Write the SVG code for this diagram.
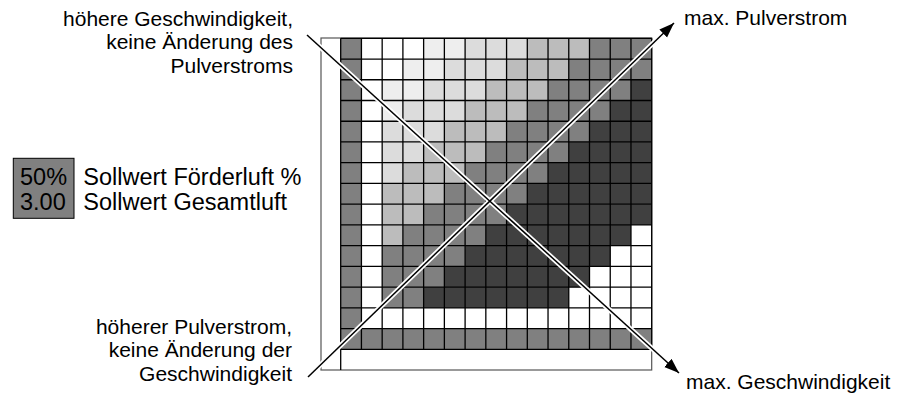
<svg xmlns="http://www.w3.org/2000/svg" width="908" height="396" viewBox="0 0 908 396">
<style>
text{font-family:"Liberation Sans",Arial,sans-serif;fill:#000}
.lbl{font-size:21px}
.big{font-size:23.5px}
.l1{fill:#eeeeee}.l2{fill:#dcdcdc}.l3{fill:#bcbcbc}.g{fill:#808080}.d{fill:#404040}
.halo{stroke:#fff;stroke-width:5;fill:none}
.ax{stroke:#000;stroke-width:1.5;fill:none;marker-end:url(#ah)}
</style>
<defs>
<marker id="ah" markerUnits="userSpaceOnUse" markerWidth="16" markerHeight="12" refX="15" refY="5.5" orient="auto">
<path d="M0,0 L15,5.5 L0,11 z" fill="#000"/>
</marker>
</defs>
<rect width="908" height="396" fill="#fff"/>
<g id="frame">
<rect x="321" y="38" width="330.7" height="332" fill="none" stroke="#555" stroke-width="1.2"/>
<line x1="340.7" y1="349" x2="340.7" y2="370" stroke="#000" stroke-width="1.3"/>
</g>
<g id="grid" transform="translate(340.7,38.3)">
<rect class="g" x="0" y="0" width="20.73" height="311"/>
<rect class="g" x="0" y="290.27" width="311" height="20.73"/>
<rect class="l1" x="82.93" y="0" width="41.47" height="20.74"/>
<rect class="l2" x="124.4" y="0" width="62.2" height="20.74"/>
<rect class="l3" x="186.6" y="0" width="62.2" height="20.74"/>
<rect class="g" x="248.8" y="0" width="62.2" height="20.74"/>
<rect class="l1" x="62.2" y="20.73" width="41.47" height="20.74"/>
<rect class="l2" x="103.67" y="20.73" width="62.2" height="20.74"/>
<rect class="l3" x="165.87" y="20.73" width="62.2" height="20.74"/>
<rect class="g" x="228.07" y="20.73" width="82.93" height="20.74"/>
<rect class="l1" x="41.47" y="41.47" width="41.47" height="20.74"/>
<rect class="l2" x="82.93" y="41.47" width="62.2" height="20.74"/>
<rect class="l3" x="145.13" y="41.47" width="62.2" height="20.74"/>
<rect class="g" x="207.33" y="41.47" width="82.93" height="20.74"/>
<rect class="d" x="290.27" y="41.47" width="20.73" height="20.74"/>
<rect class="l1" x="41.47" y="62.2" width="20.73" height="20.74"/>
<rect class="l2" x="62.2" y="62.2" width="62.2" height="20.74"/>
<rect class="l3" x="124.4" y="62.2" width="62.2" height="20.74"/>
<rect class="g" x="186.6" y="62.2" width="82.93" height="20.74"/>
<rect class="d" x="269.53" y="62.2" width="41.47" height="20.74"/>
<rect class="l2" x="41.47" y="82.93" width="62.2" height="20.74"/>
<rect class="l3" x="103.67" y="82.93" width="62.2" height="20.74"/>
<rect class="g" x="165.87" y="82.93" width="82.93" height="20.74"/>
<rect class="d" x="248.8" y="82.93" width="62.2" height="20.74"/>
<rect class="l2" x="41.47" y="103.67" width="41.47" height="20.74"/>
<rect class="l3" x="82.93" y="103.67" width="62.2" height="20.74"/>
<rect class="g" x="145.13" y="103.67" width="82.93" height="20.74"/>
<rect class="d" x="228.07" y="103.67" width="82.93" height="20.74"/>
<rect class="l2" x="41.47" y="124.4" width="20.73" height="20.74"/>
<rect class="l3" x="62.2" y="124.4" width="62.2" height="20.74"/>
<rect class="g" x="124.4" y="124.4" width="82.93" height="20.74"/>
<rect class="d" x="207.33" y="124.4" width="103.67" height="20.74"/>
<rect class="l3" x="41.47" y="145.13" width="62.2" height="20.74"/>
<rect class="g" x="103.67" y="145.13" width="82.93" height="20.74"/>
<rect class="d" x="186.6" y="145.13" width="124.4" height="20.74"/>
<rect class="l3" x="41.47" y="165.87" width="41.47" height="20.74"/>
<rect class="g" x="82.93" y="165.87" width="82.93" height="20.74"/>
<rect class="d" x="165.87" y="165.87" width="145.13" height="20.74"/>
<rect class="l3" x="41.47" y="186.6" width="20.73" height="20.74"/>
<rect class="g" x="62.2" y="186.6" width="82.93" height="20.74"/>
<rect class="d" x="145.13" y="186.6" width="145.13" height="20.74"/>
<rect class="g" x="41.47" y="207.33" width="82.93" height="20.74"/>
<rect class="d" x="124.4" y="207.33" width="145.13" height="20.74"/>
<rect class="g" x="41.47" y="228.07" width="62.2" height="20.74"/>
<rect class="d" x="103.67" y="228.07" width="145.13" height="20.74"/>
<rect class="g" x="41.47" y="248.8" width="41.47" height="20.74"/>
<rect class="d" x="82.93" y="248.8" width="145.13" height="20.74"/>
<path fill="none" stroke="#000" stroke-width="1.3" d="M0,0V311M20.73,0V311M41.47,0V311M62.2,0V311M82.93,0V311M103.67,0V311M124.4,0V311M145.13,0V311M165.87,0V311M186.6,0V311M207.33,0V311M228.07,0V311M248.8,0V311M269.53,0V311M290.27,0V311M311,0V311M0,0H311M0,20.73H311M0,41.47H311M0,62.2H311M0,82.93H311M0,103.67H311M0,124.4H311M0,145.13H311M0,165.87H311M0,186.6H311M0,207.33H311M0,228.07H311M0,248.8H311M0,269.53H311M0,290.27H311M0,311H311"/>
</g>
<g id="connectors">
<line class="halo" x1="309" y1="36.8" x2="664" y2="359.4"/>
<line class="halo" x1="310" y1="375" x2="660" y2="36.5"/>
<line class="ax" x1="307" y1="35" x2="679" y2="373"/>
<line class="ax" x1="308" y1="377" x2="674" y2="23"/>
</g>
<g id="label-top-left" class="lbl">
<text x="293" y="26" text-anchor="end">höhere Geschwindigkeit,</text>
<text x="293" y="49.3" text-anchor="end">keine Änderung des</text>
<text x="293" y="72.7" text-anchor="end">Pulverstroms</text>
</g>
<g id="label-bottom-left" class="lbl">
<text x="292" y="334" text-anchor="end">höherer Pulverstrom,</text>
<text x="292" y="357.3" text-anchor="end">keine Änderung der</text>
<text x="292" y="380.6" text-anchor="end">Geschwindigkeit</text>
</g>
<g id="label-max-pulver" class="lbl">
<text x="684" y="25">max. Pulverstrom</text>
</g>
<g id="label-max-geschw" class="lbl">
<text x="686" y="389">max. Geschwindigkeit</text>
</g>
<g id="setpoints">
<rect x="13.3" y="158.3" width="60.7" height="60" fill="#808080" stroke="#000" stroke-width="1"/>
<text class="big" x="20" y="185">50%</text>
<text class="big" x="20" y="210">3.00</text>
<text class="big" x="83.3" y="185">Sollwert Förderluft %</text>
<text class="big" x="83.3" y="210">Sollwert Gesamtluft</text>
</g>
</svg>
